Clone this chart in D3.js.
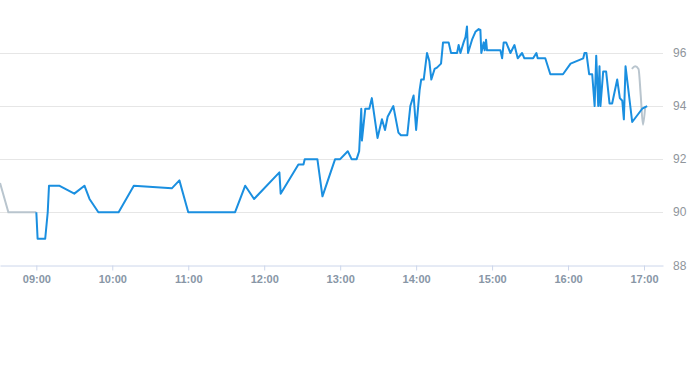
<!DOCTYPE html>
<html lang="en">

<head>
  <meta charset="UTF-8">
  <script src="https://cdn.jsdelivr.net/npm/d3@7"></script>
  <title>Intraday</title>
  <style>
    body { margin: 0; background: #fff; }
  </style>
</head>

<body>
  <svg width="693" height="365"></svg>
  <script>
    // pre-market (gray), session (blue), after-hours (gray)
    var preTimes = ["08:31:20", "08:37:55", "09:00"];
    var preValues = [91.1, 90.0, 90.0];

    var sessionTimes = [
      "09:00", "09:01", "09:07", "09:09", "09:10", "09:18", "09:30", "09:38", "09:42", "09:49",
      "10:05", "10:17", "10:47", "10:53", "11:00", "11:37", "11:45", "11:52", "12:12", "12:13",
      "12:27", "12:31", "12:32", "12:42", "12:46", "12:56", "13:00", "13:06", "13:09", "13:13",
      "13:15", "13:16:40", "13:17:10", "13:19:50", "13:23", "13:25", "13:29:30", "13:33", "13:35:25", "13:37:30",
      "13:42", "13:46", "13:48", "13:53", "13:55:25", "13:58", "14:00", "14:02:45", "14:04", "14:06",
      "14:08:35", "14:10:25", "14:12", "14:14:35", "14:16:30", "14:19:40", "14:21:15", "14:25:40", "14:27:35", "14:32:20",
      "14:33:35", "14:35", "14:37:30", "14:39", "14:40:10", "14:41", "14:44:10", "14:46:50", "14:49:25", "14:50:45",
      "14:51:30", "14:53:20", "14:54:10", "14:55:15", "14:56", "15:06:35", "15:07:55", "15:09:10", "15:11:05", "15:14:30",
      "15:17:40", "15:20:15", "15:23:40", "15:25:30", "15:32:25", "15:35", "15:36", "15:42", "15:46", "15:56",
      "16:02", "16:12", "16:13", "16:14:30", "16:16:40", "16:19:05", "16:21", "16:22:15", "16:23:50", "16:24:50",
      "16:25:35", "16:27:45", "16:30:05", "16:32:45", "16:34:50", "16:38:50", "16:40:55", "16:42:50", "16:44:05", "16:45:25",
      "16:50:40", "16:58:35", "17:02:30"
    ];
    var sessionValues = [
      90.0, 89.0, 89.0, 90.0, 91.0, 91.0, 90.7, 91.0, 90.5, 90.0,
      90.0, 91.0, 90.9, 91.2, 90.0, 90.0, 91.0, 90.5, 91.5, 90.7,
      91.8, 91.8, 92.0, 92.0, 90.6, 92.0, 92.0, 92.3, 92.0, 92.0,
      92.3, 93.9, 92.7, 93.9, 93.9, 94.3, 92.8, 93.5, 93.1, 93.6,
      94.0, 93.0, 92.9, 92.9, 94.0, 94.4, 93.1, 94.6, 95.0, 95.0,
      96.0, 95.7, 95.0, 95.4, 95.45, 95.6, 96.4, 96.4, 96.0, 96.0,
      96.3, 96.0, 96.4, 96.6, 97.0, 96.0, 96.5, 96.8, 96.9, 96.87,
      96.0, 96.4, 96.1, 96.5, 96.1, 96.1, 95.8, 96.4, 96.4, 96.0,
      96.3, 95.8, 96.0, 95.8, 95.8, 96.0, 95.8, 95.8, 95.2, 95.2,
      95.6, 95.8, 96.0, 96.0, 95.2, 95.2, 94.0, 95.9, 94.0, 95.5,
      94.0, 95.3, 95.3, 94.1, 94.1, 95.0, 94.3, 94.2, 93.5, 95.5,
      93.4, 93.9, 94.0
    ];

    var postTimes = ["16:50:25", "16:53", "16:55:40", "16:57:25", "16:59:10", "17:01"];
    var postValues = [95.4, 95.5, 95.4, 94.4, 93.3, 94.0];

    var yTicks = [88, 90, 92, 94, 96];
    var xStart = "08:31:18", xEnd = "17:15";

    var parseHM = d3.timeParse("%H:%M"), parseHMS = d3.timeParse("%H:%M:%S");
    var parse = s => s.length > 5 ? parseHMS(s) : parseHM(s);
    var zip = (ts, vs) => ts.map((t, i) => ({ t: parse(t), v: vs[i] }));

    var svg = d3.select("svg");
    var plotRight = 663;

    var x = d3.scaleTime()
      .domain([parse(xStart), parse(xEnd)])
      .range([0, plotRight]);
    var y = d3.scaleLinear()
      .domain([88, 96])
      .range([265.3, 53]);

    // grid
    svg.append("g").selectAll("line")
      .data(yTicks.filter(d => d !== 88))
      .enter().append("line")
      .attr("x1", 0).attr("x2", plotRight)
      .attr("y1", d => Math.round(y(d)) + 0.5).attr("y2", d => Math.round(y(d)) + 0.5)
      .attr("stroke", "#e6e6e6");

    // right labels
    svg.append("g").selectAll("text")
      .data(yTicks)
      .enter().append("text")
      .attr("x", 673)
      .attr("y", d => y(d))
      .attr("dy", "0.35em")
      .attr("fill", "#8f959b")
      .style("font", "12px 'Liberation Sans', Arial, sans-serif")
      .text(d => d);

    // x axis
    var xAxis = d3.axisBottom(x)
      .ticks(d3.timeHour.every(1))
      .tickFormat(d3.timeFormat("%H:%M"))
      .tickSize(5)
      .tickSizeOuter(0);
    var gx = svg.append("g")
      .attr("transform", "translate(0," + (Math.round(y(88)) + 0.5) + ")")
      .call(xAxis);
    gx.select(".domain").attr("stroke", "#ccd6eb");
    gx.selectAll(".tick line").attr("stroke", "#ccd6eb");
    gx.selectAll(".tick text")
      .attr("fill", "#8896a6")
      .attr("dy", "0.9em")
      .style("font", "bold 11px 'Liberation Sans', Arial, sans-serif");

    var line = d3.line().x(d => x(d.t)).y(d => y(d.v));

    svg.append("path")
      .datum(zip(preTimes, preValues))
      .attr("fill", "none")
      .attr("stroke", "#b9c5ce")
      .attr("stroke-width", 2)
      .attr("d", line);

    svg.append("path")
      .datum(zip(postTimes, postValues))
      .attr("fill", "none")
      .attr("stroke", "#b9c5ce")
      .attr("stroke-width", 2)
      .attr("d", line.curve(d3.curveMonotoneX));

    line.curve(d3.curveLinear);
    svg.append("path")
      .datum(zip(sessionTimes, sessionValues))
      .attr("fill", "none")
      .attr("stroke", "#1a8fe0")
      .attr("stroke-width", 2)
      .attr("stroke-linejoin", "round")
      .attr("d", line);
  </script>
</body>

</html>
